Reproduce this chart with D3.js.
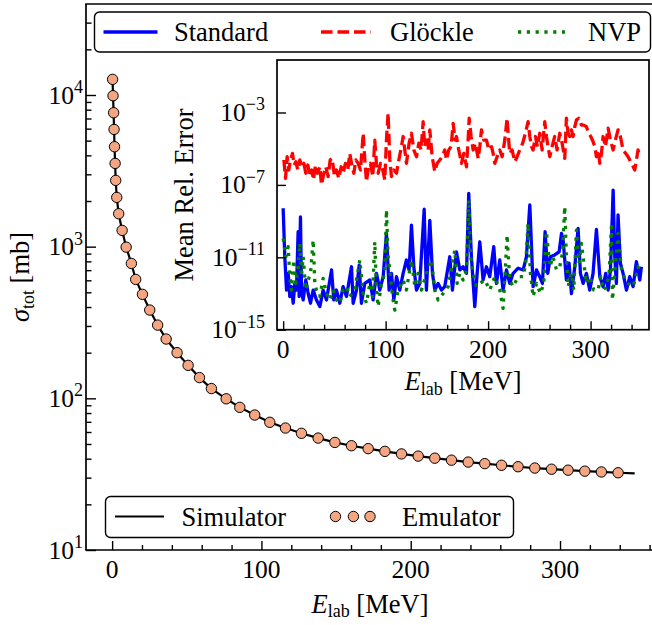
<!DOCTYPE html>
<html><head><meta charset="utf-8">
<script src="https://cdn.jsdelivr.net/npm/d3@7"></script>
<style>
body{margin:0;background:#fff}
svg{display:block}
text{font-family:"Liberation Serif","Times New Roman",serif;fill:#000}
</style>
</head><body>
<svg id="c" width="652" height="625"></svg>
<script>
// ---------------- data ----------------
// Main panel: total cross section vs lab energy
const simE = [0.3,0.6,1.0,1.3,1.6,2.0,2.4,3.1,4.4,6.7,9.4,12.9,15.8,20.3,25.2,30.5,36.2,43.5,50.9,58.5,66.5,76.4,85.5,95.5,105.6,116.1,126.8,138.0,149.2,160.3,171.5,182.7,193.8,205.0,216.1,227.3,238.5,249.6,260.8,271.9,283.1,294.3,305.4,316.6,327.7,338.9,350];
const simSigma = [12680,9890,7640,5930,4560,3540,2735,2113,1648,1280,993,775,608,485,382,304,246,200,165,137,116,99.3,87.2,77.6,69.5,63.7,58.8,54.7,51.2,48.7,46.6,44.7,43.0,41.6,40.3,39.1,38.0,37.1,36.2,35.4,34.7,34.1,33.6,33.1,32.7,32.3,32.0];
const emuE = [0.3,0.6,1.0,1.3,1.6,2.0,2.4,3.1,4.4,6.7,9.4,12.9,15.8,20.3,25.2,30.5,36.2,43.5,50.9,58.5,66.5,76.4,85.5,95.5,105.6,116.1,126.8,138.0,149.2,160.3,171.5,182.7,193.8,205.0,216.1,227.3,238.5,249.6,260.8,271.9,283.1,294.3,305.4,316.6,327.7,338.9];
const emuSigma = [12680,9890,7640,5930,4560,3540,2735,2113,1648,1280,993,775,608,485,382,304,246,200,165,137,116,99.3,87.2,77.6,69.5,63.7,58.8,54.7,51.2,48.7,46.6,44.7,43.0,41.6,40.3,39.1,38.0,37.1,36.2,35.4,34.7,34.1,33.6,33.1,32.7,32.3];
const mainYTicks = [10,100,1000,10000];
const mainXTicks = [0,100,200,300];

// Inset: mean relative error of three emulator variants
const stdE = [0,1.6,3.3,4.9,6.5,8.1,9.8,11.4,13,14.6,15.6,16.9,17.9,19.5,22.1,24.4,26.7,29.3,32.5,35.8,39,42.3,47.2,49.4,52,55.3,58.5,61.8,66.7,68.3,71.6,74.2,76.4,79.7,84.6,87.8,91.1,94.3,97.6,100.8,103.4,105.7,108,110.6,113.8,117.1,120.3,122.9,125.2,127.5,130.1,133.3,137.6,139.8,143.1,145.7,148,151.2,154.5,157.7,162.6,165.2,169.1,172.4,175.6,178.9,181.1,183.7,187,189.3,191.9,195.1,198.4,201.6,205.5,208.1,211.4,214.6,217.9,221.1,224.4,229.3,234.2,237.4,240.7,243.9,247.2,250.4,253,255.6,258.2,260.8,265,269.3,271.6,273.2,276.4,279,281.3,284.6,287.8,290.1,292.7,295.9,299.2,302.4,305.7,309,312.2,314.8,317.1,319.4,322,323.6,325.2,326.8,329.1,331.7,335,338.2,341.5,344.7,348,349.6];
const stdErr = [5.1e-9,1.07e-11,1.55e-13,1.3e-12,6.8e-14,2.4e-13,2.9e-14,3.6e-13,1.55e-13,2.6e-10,6.8e-14,1.7e-9,1.55e-13,4.4e-14,5.6e-13,1e-13,2.9e-14,1.55e-13,4.4e-14,1.9e-14,1.55e-13,4.4e-14,2e-12,4.4e-14,1.55e-13,2.9e-14,2.4e-13,6.8e-14,3e-12,2.9e-14,1.55e-13,3.7e-12,2.9e-14,3.6e-13,5.6e-13,4.4e-14,1.3e-12,1.55e-13,8.5e-13,2.1e-10,1.55e-13,1.3e-12,4.4e-14,8.5e-13,1.55e-13,1.3e-12,7.1e-12,2e-12,6e-10,3e-12,1.55e-13,3.6e-13,4.5e-9,1.55e-13,1.1e-9,1.3e-12,1.55e-13,3.6e-13,1.55e-13,2.4e-13,1.07e-11,1.55e-13,2e-11,2e-12,3e-12,1.3e-12,3.4e-8,1.07e-11,1.9e-14,1.3e-12,7.2e-11,5.6e-13,3e-12,8.5e-13,3.9e-11,3.6e-13,7.1e-12,1.55e-13,2e-12,3.6e-13,1.3e-12,2.5e-12,2e-12,1.07e-11,7.8e-9,2.4e-13,2e-12,8.5e-13,3.6e-13,2.6e-10,1.3e-12,1.07e-11,1.35e-11,2e-11,2.1e-10,9.1e-11,5.6e-13,4.7e-12,1e-13,3e-12,4e-10,1.3e-12,3.6e-13,1.3e-12,1.55e-13,1.3e-12,3.5e-10,8.5e-13,2.4e-13,1.3e-12,1.55e-13,2e-12,5.2e-8,1.07e-11,3.6e-13,2.2e-9,4.7e-12,1.3e-12,1.55e-13,8.5e-13,2.4e-13,5.8e-12,5.6e-13,3e-12];
const gloE = [0.7,2.3,3.9,5.5,7.2,9.1,10.7,12.4,14.3,16.3,18.2,20.2,22.1,24.1,26,28,29.6,31.6,33.5,35.8,37.4,39.7,41.6,43.9,45.9,47.8,50.1,52,54.3,56.6,58.5,60.8,63.1,65,67,69,70.9,73.2,75.5,78.1,79.7,81.3,83.3,85.2,87.5,89.4,91.1,92.7,95,97.2,99.2,100.8,102.4,104.1,105.7,108,110.6,112.9,114.8,117.1,118.7,120.3,122.9,125.2,127.5,130.1,132.4,134.6,136.6,138.2,139.8,141.5,143.1,145.4,148,150.3,152.9,155.1,157.7,159.4,161.6,163.9,165.9,167.8,169.1,171.4,174,176.3,178.9,180.5,181.5,183.4,185.4,187.6,190.3,191.9,193.5,195.8,198.4,200.7,203.3,204.9,206.5,208.8,211.4,213.7,216.3,218.5,219.8,221.1,223.4,226,228.3,230.9,232.5,234.2,236.4,239,240.7,242.3,243.9,246.2,248.1,250.4,252.7,255.3,256.9,258.5,260.2,262.4,265,267.3,269.9,272.2,274.8,276.4,278.1,279.7,281.3,282.9,284.6,286.2,288.5,291.1,293.3,295.9,298.2,300.2,302.4,304.1,305.7,307.3,309,310.6,312.2,314.5,317.1,319.4,322,324.2,326.8,329.1,331.7,334.3,336.6,338.2,340.8,343.1,344.7,346.3,348];
const gloErr = [2.4e-6,2.3e-7,3.6e-6,6.6e-7,2.4e-6,5.5e-6,1.26e-6,1.9e-6,6.6e-7,2.4e-6,1e-6,1.55e-6,4.4e-7,1.26e-6,2.9e-7,6.6e-7,1.9e-7,1.26e-6,4.4e-7,1e-6,1e-7,4.4e-7,1e-6,2.9e-7,2.4e-6,2.9e-6,2.9e-7,6.6e-7,2.3e-7,1e-6,4.4e-7,1.55e-6,6.6e-7,5.5e-6,1.26e-6,4.4e-7,2.4e-6,1.55e-6,6.6e-7,7.1e-5,2.4e-6,1.5e-7,1e-6,1.55e-6,2.9e-7,3e-5,1.26e-6,4.4e-7,1.55e-6,6.6e-7,1.9e-7,3e-5,9e-4,2.4e-6,2.9e-7,6.6e-7,4.4e-7,2.4e-6,8.5e-6,4.7e-5,8.5e-6,1.55e-6,2e-5,7.1e-5,8.5e-6,3.6e-6,2e-5,8.5e-6,3.1e-4,1.3e-5,3e-5,8.5e-6,1.1e-4,3.6e-6,5.4e-7,1.55e-6,2.4e-6,3.6e-6,8.5e-6,2.4e-6,8.5e-6,1.3e-5,2.5e-4,3e-5,4.7e-5,8.5e-6,1.55e-6,5.5e-6,1e-6,3e-5,4.8e-4,4.7e-5,8.5e-6,2e-5,2.9e-6,1.3e-5,1.1e-4,3e-5,3e-5,8.5e-6,1.3e-5,5.5e-6,1.55e-6,3.6e-6,8.5e-6,3.6e-6,3e-5,4.8e-4,4.7e-5,5.5e-6,8.5e-6,1.9e-6,3.6e-6,8.5e-6,1.3e-5,2.5e-5,7.1e-5,3.1e-4,4.7e-5,1.3e-5,8.5e-6,4.7e-5,1.3e-5,7.1e-5,8.5e-6,3.1e-4,4.7e-5,1.3e-5,3.6e-6,1.3e-5,4.7e-5,8.5e-6,7.1e-5,2e-5,2.9e-6,4.8e-4,7.1e-5,4.7e-5,1.1e-4,4.7e-5,1.65e-4,3.9e-4,4.8e-4,2e-4,2e-4,1.65e-4,7.1e-5,4.7e-5,2.5e-5,1.3e-5,3.6e-6,8.5e-6,1.55e-6,5.5e-6,4.7e-5,1.3e-5,1.35e-4,3e-5,8.5e-6,3e-5,1.1e-4,4.7e-5,8.5e-6,5.5e-6,3.6e-6,2.4e-6,1.26e-6,6.6e-7,2.4e-6,8.5e-6,3.6e-6];
const nvpE = [0,2.6,4.9,6.5,8.1,10.4,12.4,14.6,16.3,17.9,19.5,22.1,24.4,26.7,29.3,30.9,32.5,35.8,39,42.3,45.5,48.8,52,55.3,58.5,61.8,65,69.9,74.8,78.1,81.3,84.6,87.2,89.4,91.1,92.7,95.9,99.2,100.8,102.4,104.1,106.7,109,112.2,117.1,120.3,125.2,128.5,131.7,135,139.8,144.7,148,151.2,156.1,161,167.5,169.8,172.4,175.6,178.9,181.1,183.1,185.4,188.6,191.9,196.8,201.6,206.5,211.4,214.6,216.6,218.5,221.1,224.4,229.3,234.2,236.7,239,241.3,243.9,247.2,251.1,254.3,256.9,260.2,263.4,266.7,269.9,272.5,274.8,276.4,278.1,281.3,283.6,286.2,288.8,291.1,292.7,295.9,299.2,303.1,307.3,309.9,312.2,315.5,318.1,320.3,321.3,323.6,326.8,330.1,333.3,336.6,341.5,344.1,346.3,348.6];
const nvpErr = [1.1e-10,1.07e-11,3.9e-11,8.5e-13,1.55e-13,7.1e-12,3.6e-13,3e-12,5.9e-11,8.5e-13,1.07e-11,1.55e-13,5.6e-13,1.3e-12,9.1e-11,3.6e-13,1.55e-13,6.8e-14,6.9e-13,1e-13,4.4e-14,1.55e-13,4.4e-14,2.9e-14,1.55e-13,2.4e-13,6.8e-14,1.55e-13,7.1e-12,1e-13,2.9e-14,3.6e-13,6.8e-14,7.2e-11,1.55e-13,1.9e-14,3.6e-13,1.3e-12,4.1e-9,1.07e-11,2e-12,6.8e-14,1.2e-14,1.55e-13,5.6e-13,1.55e-13,7.1e-12,2.4e-13,1.3e-12,1.55e-13,1.3e-12,7.1e-12,1.55e-13,4.4e-14,1e-13,2.4e-13,2.5e-11,3.6e-13,1.3e-12,5.6e-13,2e-12,1.5e-8,1.07e-11,1.3e-12,2.4e-13,3.6e-13,5.6e-13,1.55e-13,8.5e-13,1.55e-13,1.5e-14,1.3e-12,1.7e-10,5.6e-13,2.4e-13,8.5e-13,8.5e-13,4.7e-12,7.5e-10,1.3e-12,6.8e-14,3.6e-13,1e-13,3.6e-13,2.6e-10,3e-12,1.07e-11,2e-12,3e-12,1.65e-11,6.3e-9,1.07e-11,2.4e-13,1.3e-12,1.55e-13,3.2e-10,4.7e-12,5.9e-11,1.07e-11,3.6e-13,8.5e-13,1.55e-13,1.55e-13,8.5e-13,1.55e-13,2.4e-13,1.3e-12,4.9e-10,4.4e-14,1.3e-12,2.1e-10,2e-12,7e-13,3.6e-13,2.4e-13,8.5e-13,3e-12,1.3e-12];
const insetYTicks = [1e-15,1e-11,1e-7,1e-3];
const insetYTickExp = ["\u221215","\u221211","\u22127","\u22123"];
const insetXTicks = [0,100,200,300];

const seriesNames = ["Standard","Gl\u00f6ckle","NVP"];
const seriesColors = ["#0000ff","#ff0000","#008000"];
const seriesDash = [null,"11.5,5","3.2,5.6"];
const mainLegend = ["Simulator","Emulator"];
const emuFill = "#f4a582";

// ---------------- drawing ----------------
const FS = 25.5;   // digits / tick labels
const FW = 26.5;   // words
const svg = d3.select("#c");
svg.append("rect").attr("width",652).attr("height",625).attr("fill","#fff");

const x = d3.scaleLinear().domain([-17.5,367.5]).range([86,660.8]);
const y = d3.scaleLog().domain([10,Math.pow(10,4.6)]).range([550,4]);

const defs = svg.append("defs");
defs.append("clipPath").attr("id","clipMain").append("rect").attr("x",86).attr("y",4).attr("width",580).attr("height",546);
defs.append("clipPath").attr("id","clipIn").append("rect").attr("x",277).attr("y",60).attr("width",372).attr("height",270);

function styleAxis(g){
  g.select(".domain").remove();
  g.selectAll(".tick line").attr("stroke","#000").attr("stroke-width",1.4);
  g.selectAll(".tick text").remove();
}

// main minor / major ticks
const yMinor = [];
mainYTicks.forEach(d=>{for(let k=2;k<=9;k++){ if(d*k<=Math.pow(10,4.6)) yMinor.push(d*k);} });
svg.append("g").attr("transform","translate(86,0)").call(d3.axisLeft(y).tickValues(mainYTicks).tickSize(-10).tickSizeOuter(0)).call(styleAxis);
svg.append("g").attr("transform","translate(86,0)").call(d3.axisLeft(y).tickValues(yMinor).tickSize(-5.5).tickSizeOuter(0)).call(styleAxis);
const xMinor = d3.range(20,367,20).filter(v=>v%100!==0);
svg.append("g").attr("transform","translate(0,550)").call(d3.axisBottom(x).tickValues(mainXTicks).tickSize(-9).tickSizeOuter(0)).call(styleAxis);
svg.append("g").attr("transform","translate(0,550)").call(d3.axisBottom(x).tickValues(xMinor).tickSize(-5).tickSizeOuter(0)).call(styleAxis);

// main labels
mainYTicks.forEach(v=>{
  const t = svg.append("text").attr("x",83).attr("y",y(v)+8.5).attr("text-anchor","end").attr("font-size",FS);
  t.append("tspan").text("10");
  t.append("tspan").attr("dy",-10.5).attr("font-size",18).text(String(Math.round(Math.log10(v))));
});
mainXTicks.forEach(v=>{
  svg.append("text").attr("x",x(v)).attr("y",577.5).attr("text-anchor","middle").attr("font-size",FS).text(v);
});

// simulator line + emulator markers
const gMain = svg.append("g").attr("clip-path","url(#clipMain)");
gMain.append("path").datum(d3.range(simE.length))
  .attr("d",d3.line().x(i=>x(simE[i])).y(i=>y(simSigma[i])))
  .attr("fill","none").attr("stroke","#000").attr("stroke-width",2.2);
gMain.selectAll("circle.emu").data(d3.range(emuE.length)).join("circle").attr("class","emu")
  .attr("cx",i=>x(emuE[i])).attr("cy",i=>y(emuSigma[i])).attr("r",5.2)
  .attr("fill",emuFill).attr("stroke","#000").attr("stroke-width",1);

// spines main
svg.append("line").attr("x1",86).attr("x2",86).attr("y1",4).attr("y2",550).attr("stroke","#000").attr("stroke-width",1.7);
svg.append("line").attr("x1",85.2).attr("x2",652).attr("y1",550).attr("y2",550).attr("stroke","#000").attr("stroke-width",1.7);
svg.append("line").attr("x1",85.2).attr("x2",652).attr("y1",4).attr("y2",4).attr("stroke","#000").attr("stroke-width",1.7);

// main axis titles
const xl = svg.append("text").attr("x",370).attr("y",612.5).attr("text-anchor","middle").attr("font-size",FW);
xl.append("tspan").attr("font-style","italic").text("E");
xl.append("tspan").attr("font-size",18).attr("dy",4.5).text("lab");
xl.append("tspan").attr("dy",-4.5).text(" [MeV]");
const yl = svg.append("text").attr("transform","translate(29,277) rotate(-90)").attr("text-anchor","middle").attr("font-size",FW);
yl.append("tspan").attr("font-style","italic").text("\u03c3");
yl.append("tspan").attr("font-size",18).attr("dy",4.5).text("tot");
yl.append("tspan").attr("dy",-4.5).text(" [mb]");

// bottom legend
const lg2 = svg.append("g");
lg2.append("rect").attr("x",105.5).attr("y",496.5).attr("width",408).attr("height",41).attr("rx",5)
  .attr("fill","#fff").attr("stroke","#000").attr("stroke-width",1.4);
lg2.append("line").attr("x1",115).attr("x2",164).attr("y1",516.5).attr("y2",516.5).attr("stroke","#000").attr("stroke-width",2.2);
lg2.append("text").attr("x",181.5).attr("y",525.5).attr("font-size",FW).text(mainLegend[0]);
lg2.selectAll("circle").data([335.5,353.4,370]).join("circle").attr("cx",d=>d).attr("cy",516.5).attr("r",5.2)
  .attr("fill",emuFill).attr("stroke","#000").attr("stroke-width",1);
lg2.append("text").attr("x",402).attr("y",525.5).attr("font-size",FW).text(mainLegend[1]);

// ---------------- inset ----------------
const xi = d3.scaleLinear().domain([-6,357]).range([277,649]);
const yi = d3.scaleLog().domain([1e-15,Math.pow(10,-0.1)]).range([329.7,60]);
svg.append("rect").attr("x",277).attr("y",60).attr("width",372).attr("height",269.7).attr("fill","#fff");

const gIn = svg.append("g").attr("clip-path","url(#clipIn)");
const seriesE = [stdE,gloE,nvpE], seriesV = [stdErr,gloErr,nvpErr];
[0,1,2].forEach(s=>{
  const E = seriesE[s], V = seriesV[s];
  const n = Math.min(E.length,V.length);
  const p = gIn.append("path").datum(d3.range(n))
    .attr("d",d3.line().x(i=>xi(E[i])).y(i=>yi(V[i])))
    .attr("fill","none").attr("stroke",seriesColors[s]).attr("stroke-width",3.3).attr("stroke-linejoin","round");
  if(seriesDash[s]) p.attr("stroke-dasharray",seriesDash[s]);
});

svg.append("g").attr("transform","translate(277,0)").call(d3.axisLeft(yi).tickValues(insetYTicks).tickSize(-9).tickSizeOuter(0)).call(styleAxis);
const xiMinor = d3.range(20,357,20).filter(v=>v%100!==0);
svg.append("g").attr("transform","translate(0,329.7)").call(d3.axisBottom(xi).tickValues(insetXTicks).tickSize(-8.5).tickSizeOuter(0)).call(styleAxis);
svg.append("g").attr("transform","translate(0,329.7)").call(d3.axisBottom(xi).tickValues(xiMinor).tickSize(-5).tickSizeOuter(0)).call(styleAxis);
svg.append("rect").attr("x",277).attr("y",60).attr("width",372).attr("height",269.7).attr("fill","none").attr("stroke","#000").attr("stroke-width",1.7);

insetYTicks.forEach((v,i)=>{
  const t = svg.append("text").attr("x",265).attr("y",yi(v)+8.5).attr("text-anchor","end").attr("font-size",FS);
  t.append("tspan").text("10");
  t.append("tspan").attr("dy",-10.5).attr("font-size",18).text(insetYTickExp[i]);
});
insetXTicks.forEach(v=>{
  svg.append("text").attr("x",xi(v)).attr("y",357.5).attr("text-anchor","middle").attr("font-size",FS).text(v);
});
const xl2 = svg.append("text").attr("x",463).attr("y",390).attr("text-anchor","middle").attr("font-size",FW);
xl2.append("tspan").attr("font-style","italic").text("E");
xl2.append("tspan").attr("font-size",18).attr("dy",4.5).text("lab");
xl2.append("tspan").attr("dy",-4.5).text(" [MeV]");
svg.append("text").attr("transform","translate(193,195) rotate(-90)").attr("text-anchor","middle").attr("font-size",FW).text("Mean Rel. Error");

// top legend
const lg1 = svg.append("g");
lg1.append("rect").attr("x",94.5).attr("y",12).attr("width",556).attr("height",40).attr("rx",5)
  .attr("fill","#fff").attr("stroke","#000").attr("stroke-width",1.4);
const legX = [[103.5,157.5,174],[321,371,390],[518,565,588]];
seriesNames.forEach((nm,s)=>{
  const l = lg1.append("line").attr("x1",legX[s][0]).attr("x2",legX[s][1]).attr("y1",32).attr("y2",32)
    .attr("stroke",seriesColors[s]).attr("stroke-width",3.3);
  if(seriesDash[s]) l.attr("stroke-dasharray",seriesDash[s]);
  lg1.append("text").attr("x",legX[s][2]).attr("y",41).attr("font-size",FW).text(nm);
});
</script>
</body></html>
